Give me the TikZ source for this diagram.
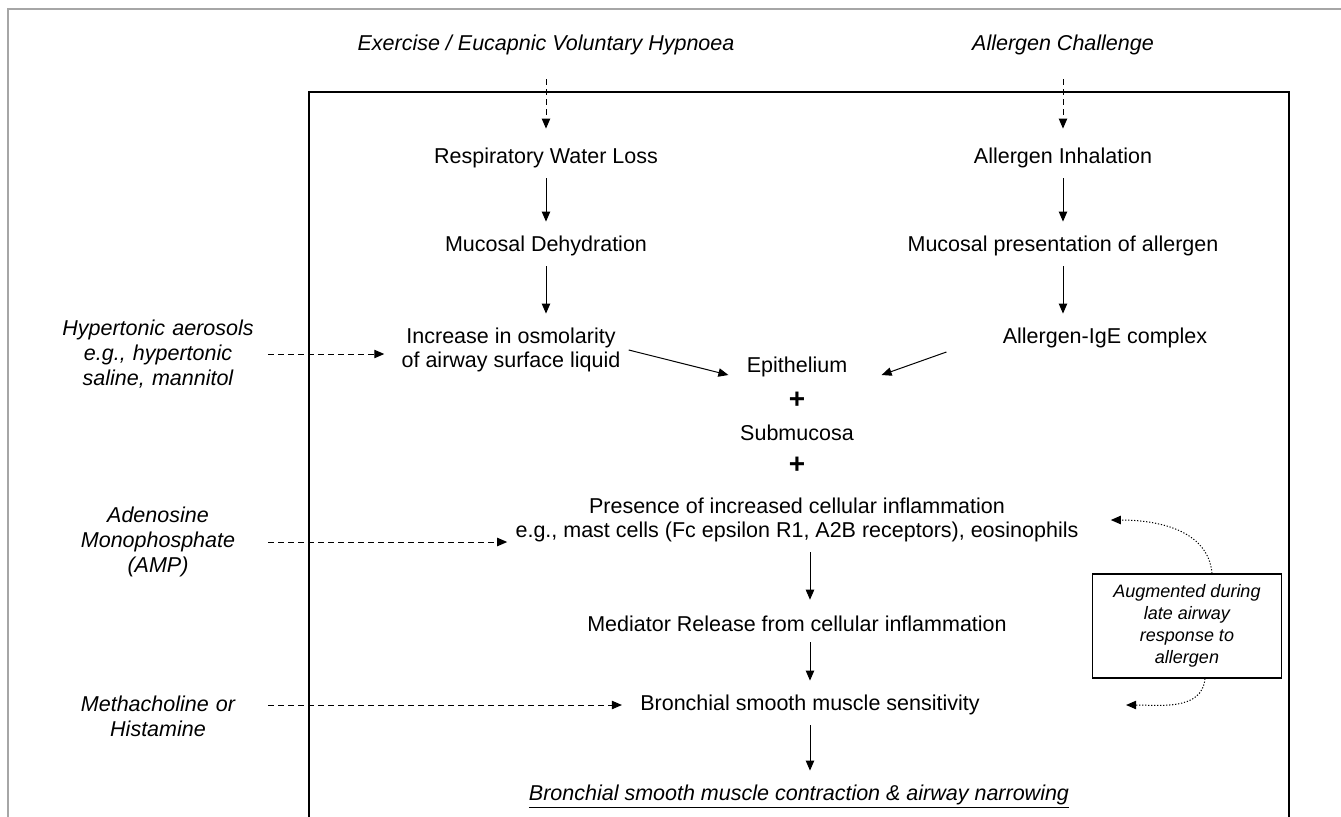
\documentclass[tikz,border=0pt]{standalone}
\usepackage{fontspec}
\setmainfont{Liberation Sans}
\usetikzlibrary{arrows.meta}
\usetikzlibrary{positioning}
\tikzset{every node/.style={font=\fontsize{10.75}{12}\selectfont, inner sep=0pt}}
\tikzset{flow/.style={-{Triangle[length=5pt,width=4.2pt]}, line width=0.5pt}}
\tikzset{dasharr/.style={flow, dash pattern=on 3pt off 2pt}}
\tikzset{dotarr/.style={flow, dash pattern=on 0.6pt off 0.9pt}}
\tikzset{lefttxt/.style={text width=110pt, align=center, font=\fontsize{10.75}{12.5}\selectfont\itshape}}

\begin{document}
\begin{tikzpicture}[x=0.5pt, y=-0.5pt]

\useasboundingbox (0,0) rectangle (1341,816);
\clip (0,0) rectangle (1341,816);

% frames
\draw[gray!70, line width=1pt] (8,830) -- (8,9) -- (1350,9);
\draw[line width=0.6pt] (309,830) -- (309,92) -- (1289,92) -- (1289,830);

% top inputs
\node (exer) at (546,45) {\itshape Exercise / Eucapnic Voluntary Hypnoea};
\node (chal) at (1063,45) {\itshape Allergen Challenge};

% left column
\node[lefttxt] (hyp) at (158,354) {Hypertonic aerosols\\e.g., hypertonic\\saline, mannitol};
\node[lefttxt] (amp) at (158,542) {Adenosine\\Monophosphate\\(AMP)};
\node[lefttxt, anchor=north] (meth) at (158,696) {Methacholine or\\Histamine};

% chain
\node (rwl) at (546,158) {Respiratory Water Loss};
\node (mdeh) at (546,246) {Mucosal Dehydration};
\node[align=center] (osmo) at (511,350) {Increase in osmolarity\\of airway surface liquid};

\node (inh) at (1063,158) {Allergen Inhalation};
\node (mpres) at (1063,246) {Mucosal presentation of allergen};
\node (ige) at (1105,338) {Allergen-IgE complex};

\node (epi) at (797,367) {Epithelium};
\node (plus1) at (797,400) {\fontsize{14}{14}\selectfont\bfseries +};
\node (sub) at (797,433) {Submucosa};
\node (plus2) at (797,465) {\fontsize{14}{14}\selectfont\bfseries +};
\node[align=center] (infl) at (797,520) {Presence of increased cellular inflammation\\e.g., mast cells (Fc epsilon R1, A2B receptors), eosinophils};
\node (medi) at (797,624) {Mediator Release from cellular inflammation};
\node (bsms) at (810,705) {Bronchial smooth muscle sensitivity};
\node (contr) at (799,797) {\underline{\itshape Bronchial smooth muscle contraction \& airway narrowing}};

\node[draw, line width=0.6pt, minimum width=94.5pt, minimum height=52pt, align=center,
      font=\fontsize{9}{11}\selectfont\itshape] (aug) at (1187,626)
      {Augmented during\\late airway\\response to\\allergen};

% arrows
\draw[dasharr, shorten <=12pt, shorten >=9.5pt] (exer) -- (rwl);
\draw[dasharr, shorten <=12pt, shorten >=9.5pt] (chal) -- (inh);

\draw[flow, shorten <=5pt, shorten >=7pt] (rwl) -- (mdeh);
\draw[flow, shorten <=5pt, shorten >=7pt] (mdeh) -- (mdeh |- osmo.north);
\draw[flow, shorten <=5pt, shorten >=7pt] (inh) -- (mpres);
\draw[flow, shorten <=5pt, shorten >=7pt] (mpres) -- (mpres |- ige.north);

\draw[flow] ([xshift=4pt]osmo.east) -- ([xshift=-9pt,yshift=-4pt]epi.west);
\draw[flow] ([xshift=-28pt,yshift=-7pt]ige.west) -- ([xshift=17pt,yshift=-4pt]epi.east);

\draw[flow, shorten <=5pt, shorten >=8pt] (bsms |- infl.south) -- (bsms |- medi.north);
\draw[flow, shorten <=5pt, shorten >=7pt] (bsms |- medi.south) -- (bsms.north);
\draw[flow, shorten <=5pt, shorten >=7pt] (bsms) -- (bsms |- contr.north);

\draw[dasharr, shorten >=8.5pt] (hyp.east) -- (hyp.east -| osmo.west);
\draw[dasharr, shorten >=4pt] (amp.east) -- (amp.east -| infl.west);
\draw[dasharr, shorten >=9pt] (meth.east |- bsms) -- (bsms.west);

\draw[dotarr] ([xshift=12.5pt]aug.north) to[out=95, in=0] ([xshift=16pt]infl.east);
\draw[dotarr] ([xshift=9pt]aug.south) to[out=-95, in=0] ([xshift=73pt]bsms.east);

\end{tikzpicture}
\end{document}
